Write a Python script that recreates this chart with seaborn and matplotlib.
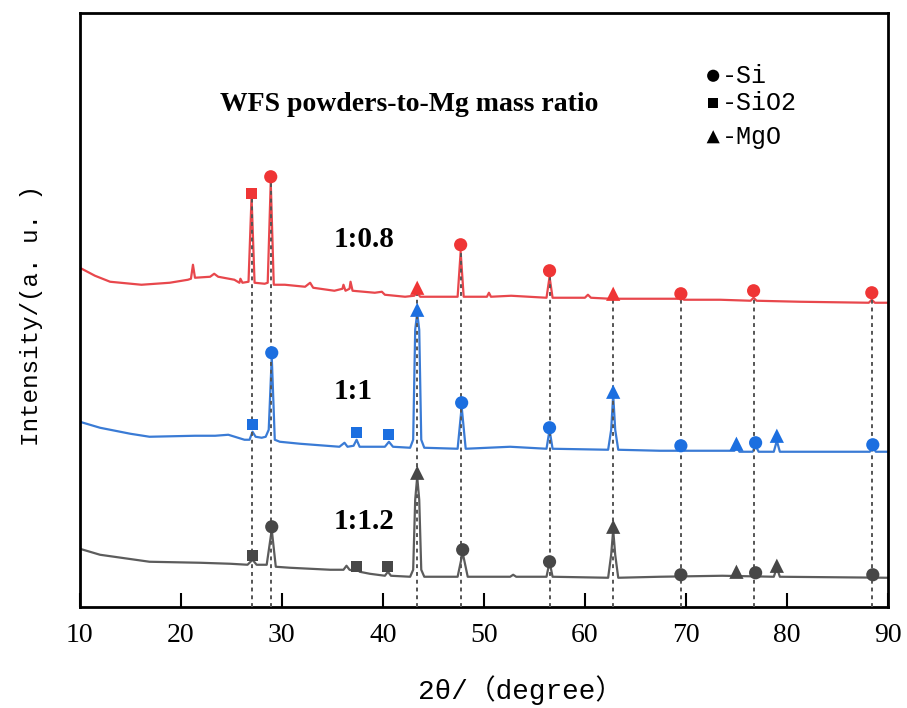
import numpy as np
import pandas as pd
import matplotlib
matplotlib.use("Agg")
import matplotlib.pyplot as plt
import seaborn as sns

# ---------------- data (2θ in degrees, stacked intensity in a.u.) ----------------
red_x = [10.0, 11.5, 13.0, 16.1, 18.9, 20.7, 21.0, 21.2, 21.4, 22.9, 23.3, 23.7, 25.3, 25.8,
         25.9, 26.1, 26.7, 27.0, 27.3, 28.3, 28.6, 28.9, 29.2, 30.3, 32.3, 32.8, 33.1, 35.2,
         36.0, 36.1, 36.3, 36.7, 36.8, 37.0, 39.2, 39.9, 40.2, 42.2, 43.1, 43.4, 43.7, 46.1,
         47.4, 47.7, 48.0, 50.3, 50.5, 50.7, 52.7, 56.2, 56.5, 56.8, 60.0, 60.3, 60.6, 62.5,
         62.8, 63.1, 66.4, 69.2, 69.5, 69.8, 73.4, 76.4, 76.7, 77.0, 81.3, 88.1, 88.4, 88.7, 90.0]
red_y = [339, 331, 325, 322, 324, 327, 328, 342, 329, 330, 333, 330, 327, 324,
         328, 324, 325, 410, 324, 323, 324, 425, 322, 322, 320, 324, 319, 316,
         318, 322, 316, 318, 325, 316, 314, 315, 312, 310, 311, 314, 310, 310,
         310, 355, 310, 310, 314, 310, 311, 309, 330, 309, 309, 312, 309, 308,
         311, 308, 308, 308, 311, 307, 307, 306, 309, 306, 305, 304, 307, 304, 304]

blue_x = [10.0, 12.0, 15.0, 16.9, 21.4, 23.4, 24.7, 26.3, 26.8, 27.1, 27.4, 28.0, 28.4, 28.7,
          29.0, 29.3, 29.8, 31.8, 35.7, 36.2, 36.5, 37.1, 37.4, 37.7, 38.7, 40.2, 40.6, 41.0,
          42.7, 43.0, 43.2, 43.4, 43.6, 43.8, 44.1, 47.4, 47.8, 48.2, 52.6, 56.2, 56.5, 56.8,
          62.3, 62.6, 62.8, 63.0, 63.3, 67.4, 69.2, 69.5, 69.8, 74.8, 75.0, 75.3, 76.6, 76.9,
          77.2, 78.7, 79.0, 79.3, 88.2, 88.5, 88.8, 90.0]
blue_y = [185, 179, 173, 170, 171, 171, 172, 167, 167, 175, 170, 169, 170, 177,
          250, 167, 165, 163, 160, 164, 160, 161, 167, 160, 160, 160, 165, 160,
          159, 167, 277, 294, 277, 167, 159, 158, 200, 158, 160, 158, 177, 158,
          157, 177, 212, 177, 157, 156, 156, 161, 156, 156, 160, 155, 155, 161,
          155, 155, 166, 155, 155, 160, 155, 155]

gray_x = [10.0, 12.0, 16.9, 21.9, 24.9, 26.6, 27.1, 27.5, 28.5, 29.0, 29.4, 30.8, 34.8, 36.1,
          36.4, 36.7, 37.1, 37.4, 37.7, 38.7, 40.2, 40.5, 40.8, 42.7, 43.0, 43.2, 43.4, 43.6,
          43.8, 44.1, 47.4, 47.9, 48.4, 52.6, 52.9, 53.2, 56.2, 56.5, 56.8, 62.3, 62.6, 62.8,
          63.0, 63.3, 67.4, 73.6, 78.7, 79.0, 79.3, 90.0]
gray_y = [58, 52, 45, 44, 43, 42, 47, 42, 42, 77, 40, 39, 37, 37,
          41, 37, 36, 41, 35, 33, 31, 35, 31, 30, 37, 107, 130, 107,
          37, 30, 30, 54, 30, 30, 32, 30, 30, 45, 30, 29, 52, 77,
          52, 29, 30, 31, 30, 39, 30, 29]

# phase markers: (2θ, intensity, phase)
red_mk_x = [27.0, 28.9, 43.4, 47.7, 56.5, 62.8, 69.5, 76.7, 88.4]
red_mk_y = [413, 430, 319, 362, 336, 313, 313, 316, 314]
red_mk_p = ["SiO2", "Si", "MgO", "Si", "Si", "MgO", "Si", "Si", "Si"]

blue_mk_x = [27.1, 29.0, 37.4, 40.6, 43.4, 47.8, 56.5, 62.8, 69.5, 75.0, 76.9, 79.0, 88.5]
blue_mk_y = [182, 254, 174, 172, 297, 204, 179, 215, 161, 163, 164, 171, 162]
blue_mk_p = ["SiO2", "Si", "SiO2", "SiO2", "MgO", "Si", "Si", "MgO", "Si", "MgO", "Si", "MgO", "Si"]

gray_mk_x = [27.1, 29.0, 37.4, 40.5, 43.4, 47.9, 56.5, 62.8, 69.5, 75.0, 76.9, 79.0, 88.5]
gray_mk_y = [51, 80, 40, 40, 134, 57, 45, 80, 32, 35, 34, 41, 32]
gray_mk_p = ["SiO2", "Si", "SiO2", "SiO2", "MgO", "Si", "Si", "MgO", "Si", "MgO", "Si", "MgO", "Si"]

# reference lines
ref_x = [27.0, 28.9, 43.4, 47.7, 56.5, 62.8, 69.5, 76.7, 88.4]
ref_top = [413, 430, 319, 362, 336, 313, 313, 316, 314]

series_labels = ["1:0.8", "1:1", "1:1.2"]
legend_phases = ["Si", "SiO2", "MgO"]
legend_texts = ["-Si", "-SiO2", "-MgO"]
title_text = "WFS powders-to-Mg mass ratio"
x_ticks = [10, 20, 30, 40, 50, 60, 70, 80, 90]

# ---------------- style ----------------
sns.set_theme(style="white")
plt.rcParams["font.family"] = ["Liberation Serif", "Noto Sans CJK SC", "DejaVu Sans"]
plt.rcParams["text.color"] = "black"
plt.rcParams["axes.labelcolor"] = "black"
plt.rcParams["xtick.color"] = "black"

marker_shape = {"Si": "o", "SiO2": "s", "MgO": "^"}
marker_size = {"Si": 90, "SiO2": 62, "MgO": 105}

fig = plt.figure(figsize=(9.07, 7.08), dpi=100)
ax = fig.add_axes([0.088, 0.143, 0.891, 0.839])

curves = [
    (red_x, red_y, "#e8474c", red_mk_x, red_mk_y, red_mk_p, "#ef3535"),
    (blue_x, blue_y, "#3a7bd5", blue_mk_x, blue_mk_y, blue_mk_p, "#1c6fe0"),
    (gray_x, gray_y, "#5c5c5c", gray_mk_x, gray_mk_y, gray_mk_p, "#474747"),
]

for cx, cy, lc, mx, my, mp, mc in curves:
    df = pd.DataFrame({"x": cx, "y": cy})
    sns.lineplot(data=df, x="x", y="y", ax=ax, color=lc, linewidth=1.6,
                 estimator=None, sort=False, zorder=2)

for xv, top in zip(ref_x, ref_top):
    ax.vlines(xv, 0, top, colors="#555555", linestyles=(0, (2, 2)), linewidth=1.4, zorder=3)

for cx, cy, lc, mx, my, mp, mc in curves:
    mdf = pd.DataFrame({"x": mx, "y": my, "p": mp})
    for ph in legend_phases:
        sub = mdf[mdf["p"] == ph]
        if len(sub):
            sns.scatterplot(data=sub, x="x", y="y", ax=ax, marker=marker_shape[ph],
                            s=marker_size[ph], color=mc, edgecolor="none", zorder=4, legend=False)

# legend (manual)
leg_x = 72.7
leg_y = [531, 504, 470]
for ph, txt, ly in zip(legend_phases, legend_texts, leg_y):
    ax.scatter([leg_x], [ly], marker=marker_shape[ph], s=marker_size[ph] * 0.85,
               color="black", edgecolor="none", zorder=5)
    ax.text(leg_x + 0.9, ly, txt, fontsize=18, family="Liberation Mono",
            va="center", ha="left", color="black")

ax.text(23.9, 502, title_text, fontsize=20, fontweight="bold", va="center", ha="left",
        color="black")
for lab, (lx, ly) in zip(series_labels, [(35.1, 367), (35.1, 215), (35.1, 85)]):
    ax.text(lx, ly, lab, fontsize=21, fontweight="bold", va="center", ha="left", color="black")

ax.set_xlim(10, 90)
ax.set_ylim(0, 594)
ax.set_xticks(x_ticks)
ax.set_xticklabels([str(t) for t in x_ticks], fontsize=20, family="Liberation Serif")
ax.set_yticks([])
ax.tick_params(axis="x", direction="in", length=10, width=1.5, bottom=True, top=False,
               pad=12, colors="black")
for sp in ax.spines.values():
    sp.set_visible(True)
    sp.set_color("black")
    sp.set_linewidth(2)

ax.set_xlabel("2θ/（degree）", fontsize=20,
              family=["Liberation Mono", "Noto Sans CJK SC", "DejaVu Sans"])
ax.xaxis.set_label_coords(0.545, -0.115)
ax.set_ylabel("Intensity/(a. u. )", fontsize=17.5, family="Liberation Mono")
ax.yaxis.set_label_coords(-0.045, 0.49)

fig.savefig("out.png", dpi=100, facecolor="white")
